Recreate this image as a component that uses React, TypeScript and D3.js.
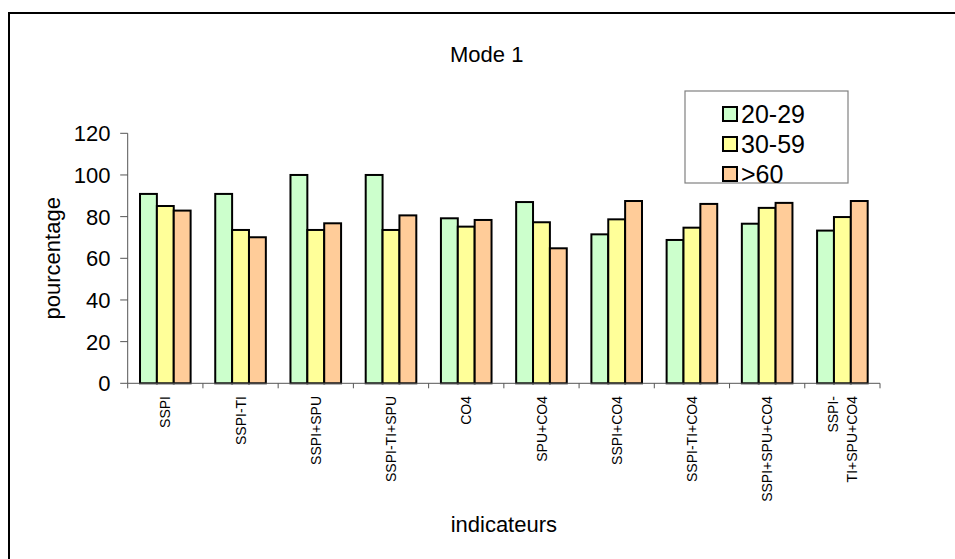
import React from "react";
import * as d3 from "d3";

const categories = [
  "SSPI",
  "SSPI-TI",
  "SSPI+SPU",
  "SSPI-TI+SPU",
  "CO4",
  "SPU+CO4",
  "SSPI+CO4",
  "SSPI-TI+CO4",
  "SSPI+SPU+CO4",
  "SSPI-TI+SPU+CO4",
];
const seriesNames = ["20-29", "30-59", ">60"];
const s2029 = [90.9, 90.9, 100, 100, 79.2, 87.0, 71.5, 68.8, 76.6, 73.3];
const s3059 = [85.1, 73.6, 73.6, 73.6, 75.2, 77.3, 78.7, 74.7, 84.2, 79.8];
const s60 = [82.9, 70.1, 76.8, 80.6, 78.4, 64.8, 87.5, 86.1, 86.6, 87.5];
const yTicks = [0, 20, 40, 60, 80, 100, 120];
const colors = ["#CCFFCC", "#FFFF99", "#FFCC99"];
// wrapped label lines for the last category
const labelLines: Record<string, string[]> = {
  "SSPI-TI+SPU+CO4": ["SSPI-", "TI+SPU+CO4"],
};

const FONT = "'Liberation Sans', Arial, Helvetica, sans-serif";

export default function App() {
  const W = 955;
  const H = 559;
  const left = 127.7;
  const right = 880;
  const top = 133.3;
  const bottom = 383.3;

  const x = d3.scaleBand<string>().domain(categories).range([left, right]).paddingInner(0).paddingOuter(0);
  const xs = d3.scaleBand<string>().domain(seriesNames).range([0, x.bandwidth()]).paddingInner(0).paddingOuter(0.73);
  const y = d3.scaleLinear().domain([0, 120]).range([bottom, top]);
  const series = [s2029, s3059, s60];

  const boundaries = categories.map((c) => x(c) as number).concat([right]);

  return (
    <svg
      width={W}
      height={H}
      style={{ position: "absolute", left: 0, top: 0, background: "#fff" }}
      fontFamily={FONT}
    >
      <rect x={0} y={0} width={W} height={H} fill="#fff" />
      {/* outer chart border */}
      <rect x={9} y={13} width={W + 20} height={H + 20} fill="none" stroke="#000" strokeWidth={2} />

      {/* title */}
      <text x={486.7} y={61.5} textAnchor="middle" fontSize={22} fill="#000">
        Mode 1
      </text>

      {/* bars */}
      {categories.map((c, i) => (
        <g key={c} transform={`translate(${x(c)},0)`}>
          {series.map((s, k) => (
            <rect
              key={k}
              x={xs(seriesNames[k])}
              y={y(s[i])}
              width={xs.bandwidth()}
              height={bottom - y(s[i])}
              fill={colors[k]}
              stroke="#000"
              strokeWidth={2}
            />
          ))}
        </g>
      ))}

      {/* y axis */}
      <line x1={left} x2={left} y1={top} y2={bottom} stroke="#555" strokeWidth={1} />
      {yTicks.map((t) => (
        <g key={t}>
          <line x1={left - 7.5} x2={left} y1={y(t)} y2={y(t)} stroke="#555" strokeWidth={1} />
          <text x={110.5} y={y(t)} dy="0.36em" textAnchor="end" fontSize={22} fill="#000">
            {t}
          </text>
        </g>
      ))}

      {/* x axis */}
      <line x1={left} x2={right} y1={bottom} y2={bottom} stroke="#555" strokeWidth={1} />
      {boundaries.map((bx, i) => (
        <line key={i} x1={bx} x2={bx} y1={bottom} y2={bottom + 5} stroke="#555" strokeWidth={1} />
      ))}
      {categories.map((c) => {
        const cx = (x(c) as number) + x.bandwidth() / 2;
        const lines = labelLines[c] || [c];
        const lh = 19;
        return lines.map((ln, j) => {
          const off = (j - (lines.length - 1) / 2) * lh;
          return (
            <text
              key={c + j}
              transform={`translate(${cx + off},396) rotate(-90)`}
              dy="0.36em"
              textAnchor="end"
              fontSize={14}
              fill="#000"
            >
              {ln}
            </text>
          );
        });
      })}

      {/* axis titles */}
      <text
        transform={`translate(52.5,${(top + bottom) / 2}) rotate(-90)`}
        dy="0.36em"
        textAnchor="middle"
        fontSize={22}
        fill="#000"
      >
        pourcentage
      </text>
      <text x={(left + right) / 2} y={531.5} textAnchor="middle" fontSize={22} fill="#000">
        indicateurs
      </text>

      {/* legend */}
      <rect x={685} y={91} width={163} height={92} fill="#fff" stroke="#808080" strokeWidth={1.2} />
      {seriesNames.map((n, k) => {
        const cy = 114 + k * 30;
        return (
          <g key={n}>
            <rect x={723} y={cy - 7} width={14} height={14} fill={colors[k]} stroke="#000" strokeWidth={2} />
            <text x={741} y={cy} dy="0.36em" fontSize={25} fill="#000">
              {n}
            </text>
          </g>
        );
      })}
    </svg>
  );
}
